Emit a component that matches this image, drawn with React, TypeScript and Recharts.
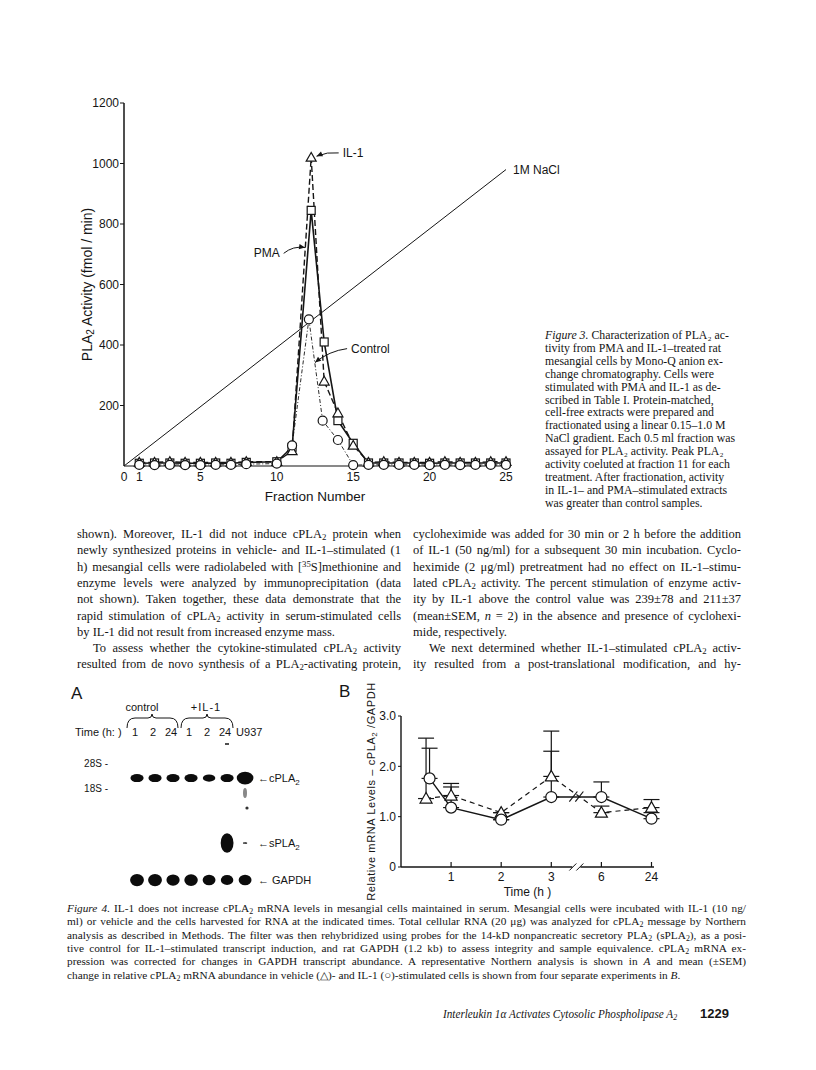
import React from "react";
import {
  LineChart,
  Line,
  XAxis,
  YAxis,
  ReferenceLine,
  ReferenceDot,
  Label,
  ScatterChart,
  Scatter,
  ErrorBar,
} from "recharts";

// ---- Figure 3: PLA2 activity of Mono-Q fractions
const fractionX = [1, 2, 3, 4, 5, 6, 7, 8, 10, 11, 12.25, 13.1, 14, 15, 16, 17, 18, 19, 20, 21, 22, 23, 24, 25];
const il1Activity = [12, 12, 14, 12, 12, 12, 12, 14, 14, 50, 1020, 280, 175, 68, 12, 14, 12, 12, 12, 14, 12, 12, 14, 14];
const pmaActivity = [9, 10, 10, 9, 9, 10, 9, 12, 14, 62, 845, 410, 150, 75, 10, 10, 10, 10, 9, 10, 10, 10, 10, 10];
const controlX = [1, 2, 3, 4, 5, 6, 7, 8, 10, 11, 12.1, 13, 14, 15, 16, 17, 18, 19, 20, 21, 22, 23, 24, 25];
const controlActivity = [4, 3, 4, 3, 3, 4, 4, 6, 8, 68, 485, 150, 86, 3, 4, 4, 4, 4, 3, 4, 3, 4, 4, 4];
const naclX = [0, 25];
const naclActivity = [0, 980];
const fractionTicks = [0, 1, 5, 10, 15, 20, 25];
const activityTicks = [200, 400, 600, 800, 1000, 1200];

// ---- Figure 4A: Northern blot
const laneX = [1, 2, 3, 4, 5, 6, 7];
const laneLabels = ["1", "2", "24", "1", "2", "24", "U937"];
const cpla2Signal = [1.0, 1.0, 1.0, 1.0, 0.9, 1.0, 1.6];
const spla2Signal = [0, 0, 0, 0, 0, 1.4, 0.12];
const gapdhSignal = [1.1, 1.1, 1.0, 1.05, 0.95, 0.9, 0.95];
const rowNames = ["cPLA2", "sPLA2", "GAPDH"];
const rowRf = [0.187, 0.62, 0.867];
const markerNames = ["28S", "18S"];
const markerRf = [0.087, 0.253];

// ---- Figure 4B: relative cPLA2 / GAPDH mRNA
const timeTicks = [1, 2, 3, 4, 5];
const timeLabels = ["1", "2", "3", "6", "24"];
const vehicleX = [0.5, 1, 2, 3, 4, 5];
const vehicleMean = [1.36, 1.42, 1.08, 1.8, 1.08, 1.18];
const vehicleSem = [1.2, 0.17, 0, 0.5, 0.13, 0.16];
const il1TimeX = [0.57, 1, 2, 3, 4, 5];
const il1Mean = [1.76, 1.18, 0.94, 1.39, 1.39, 0.96];
const il1Sem = [0.6, 0.48, 0, 1.31, 0.3, 0.12];
const ratioTicks = [0, 1, 2, 3];

// ---- text
const fig3Caption = [
  "*Figure 3.* Characterization of PLA_{2} ac-",
  "tivity from PMA and IL-1–treated rat",
  "mesangial cells by Mono-Q anion ex-",
  "change chromatography. Cells were",
  "stimulated with PMA and IL-1 as de-",
  "scribed in Table I. Protein-matched,",
  "cell-free extracts were prepared and",
  "fractionated using a linear 0.15–1.0 M",
  "NaCl gradient. Each 0.5 ml fraction was",
  "assayed for PLA_{2} activity. Peak PLA_{2}",
  "activity coeluted at fraction 11 for each",
  "treatment. After fractionation, activity",
  "in IL-1– and PMA–stimulated extracts",
  "was greater than control samples.",
];
const leftColumn = [
  "shown). Moreover, IL-1 did not induce cPLA_{2} protein when",
  "newly synthesized proteins in vehicle- and IL-1–stimulated (1",
  "h) mesangial cells were radiolabeled with [^{35}S]methionine and",
  "enzyme levels were analyzed by immunoprecipitation (data",
  "not shown). Taken together, these data demonstrate that the",
  "rapid stimulation of cPLA_{2} activity in serum-stimulated cells",
  "by IL-1 did not result from increased enzyme mass.",
  "To assess whether the cytokine-stimulated cPLA_{2} activity",
  "resulted from de novo synthesis of a PLA_{2}-activating protein,",
];
const rightColumn = [
  "cycloheximide was added for 30 min or 2 h before the addition",
  "of IL-1 (50 ng/ml) for a subsequent 30 min incubation. Cyclo-",
  "heximide (2 μg/ml) pretreatment had no effect on IL-1–stimu-",
  "lated cPLA_{2} activity. The percent stimulation of enzyme activ-",
  "ity by IL-1 above the control value was 239±78 and 211±37",
  "(mean±SEM, *n* = 2) in the absence and presence of cyclohexi-",
  "mide, respectively.",
  "We next determined whether IL-1–stimulated cPLA_{2} activ-",
  "ity resulted from a post-translational modification, and hy-",
];
const fig4Caption = [
  "*Figure 4.* IL-1 does not increase cPLA_{2} mRNA levels in mesangial cells maintained in serum. Mesangial cells were incubated with IL-1 (10 ng/",
  "ml) or vehicle and the cells harvested for RNA at the indicated times. Total cellular RNA (20 μg) was analyzed for cPLA_{2} message by Northern",
  "analysis as described in Methods. The filter was then rehybridized using probes for the 14-kD nonpancreatic secretory PLA_{2} (sPLA_{2}), as a posi-",
  "tive control for IL-1–stimulated transcript induction, and rat GAPDH (1.2 kb) to assess integrity and sample equivalence. cPLA_{2} mRNA ex-",
  "pression was corrected for changes in GAPDH transcript abundance. A representative Northern analysis is shown in *A* and mean (±SEM)",
  "change in relative cPLA_{2} mRNA abundance in vehicle (△)- and IL-1 (○)-stimulated cells is shown from four separate experiments in *B*.",
];

const ink = "#151515";
const sans = "'Liberation Sans', Arial, sans-serif";
const serif = "'Liberation Serif', 'Times New Roman', serif";

function rich(s: string, uniSub = false) {
  return s.split(/(_\{[^}]*\}|\^\{[^}]*\}|\*[^*]+\*)/).map((p, i) => {
    if (p.startsWith("_{")) {
      if (uniSub) return p.slice(2, -1).replace(/2/g, "₂");
      return (
        <span key={i} style={{ fontSize: "0.7em", verticalAlign: "-0.25em", lineHeight: 0 }}>
          {p.slice(2, -1)}
        </span>
      );
    }
    if (p.startsWith("^{"))
      return (
        <span key={i} style={{ fontSize: "0.7em", verticalAlign: "0.45em", lineHeight: 0 }}>
          {p.slice(2, -1)}
        </span>
      );
    if (p.length > 2 && p.startsWith("*")) return <i key={i}>{p.slice(1, -1)}</i>;
    return p;
  });
}

function TextBlock(props: {
  lines: string[];
  left: number;
  top: number;
  width: number;
  lh: number;
  size: number;
  ragged?: number[];
  indent?: number[];
  allRagged?: boolean;
  uniSub?: boolean;
}) {
  const { lines, left, top, width, lh, size, ragged = [], indent = [], allRagged = false, uniSub = false } = props;
  return (
    <>
      {lines.map((l, i) => (
        <div
          key={i}
          style={{
            position: "absolute",
            left,
            top: top + i * lh,
            width,
            height: lh,
            lineHeight: `${lh}px`,
            fontSize: size,
            fontFamily: serif,
            color: ink,
            whiteSpace: "nowrap",
            textAlign: allRagged ? "left" : "justify",
            textAlignLast: allRagged || ragged.includes(i) ? "left" : "justify",
            paddingLeft: indent.includes(i) ? 16 : 0,
            boxSizing: "border-box",
          }}
        >
          {rich(l, uniSub)}
        </div>
      ))}
    </>
  );
}

// open markers
const triangle = (size: number) => (p: any) => {
  const { cx, cy } = p;
  if (cx == null || cy == null) return <g />;
  const s = size;
  return (
    <polygon
      points={`${cx},${cy - s} ${cx - s},${cy + s * 0.75} ${cx + s},${cy + s * 0.75}`}
      fill="#fff"
      stroke={ink}
      strokeWidth={1.2}
    />
  );
};
const square = (p: any) => {
  const { cx, cy } = p;
  if (cx == null || cy == null) return <g />;
  return <rect x={cx - 4} y={cy - 4} width={8} height={8} fill="#fff" stroke={ink} strokeWidth={1.2} />;
};
const circle = (r: number) => (p: any) => {
  const { cx, cy } = p;
  if (cx == null || cy == null) return <g />;
  return <circle cx={cx} cy={cy} r={r} fill="#fff" stroke={ink} strokeWidth={1.2} />;
};

function arrowShape(text: string, side: "start" | "end", bend: number) {
  return (p: any) => {
    const { x1, y1, x2, y2 } = p;
    const dx = x2 - x1;
    const dy = y2 - y1;
    const len = Math.hypot(dx, dy) || 1;
    const qx = (x1 + x2) / 2 - (dy / len) * bend;
    const qy = (y1 + y2) / 2 + (dx / len) * bend;
    const hl = Math.hypot(x2 - qx, y2 - qy) || 1;
    const ux = (x2 - qx) / hl;
    const uy = (y2 - qy) / hl;
    const h = 6;
    const w = 2.6;
    const head = `${x2},${y2} ${x2 - ux * h - uy * w},${y2 - uy * h + ux * w} ${x2 - ux * h + uy * w},${y2 - uy * h - ux * w}`;
    return (
      <g>
        <path d={`M${x1},${y1} Q${qx},${qy} ${x2},${y2}`} fill="none" stroke={ink} strokeWidth={1} />
        <polygon points={head} fill={ink} />
        <text
          x={side === "start" ? x1 + 4 : x1 - 4}
          y={y1}
          dy={4}
          textAnchor={side}
          fontSize={12}
          fontFamily={sans}
          fill={ink}
        >
          {text}
        </text>
      </g>
    );
  };
}

function Fig3() {
  const il1 = fractionX.map((x, i) => ({ x, y: il1Activity[i] }));
  const pma = fractionX.map((x, i) => ({ x, y: pmaActivity[i] }));
  const ctl = controlX.map((x, i) => ({ x, y: controlActivity[i] }));
  const nacl = naclX.map((x, i) => ({ x, y: naclActivity[i] }));
  const tick = { fill: ink, fontSize: 12, fontFamily: sans };
  return (
    <LineChart width={600} height={520} margin={{ top: 103, right: 94, bottom: 14, left: 74 }}>
      <XAxis
        type="number"
        dataKey="x"
        domain={[0, 25]}
        ticks={fractionTicks}
        interval={0}
        tickLine={false}
        tickSize={0}
        tickMargin={6}
        height={40}
        axisLine={{ stroke: ink, strokeWidth: 1.2 }}
        tick={tick}
      >
        <Label
          content={(p: any) => (
            <text
              x={p.viewBox.x + p.viewBox.width / 2}
              y={p.viewBox.y + 35}
              textAnchor="middle"
              fontSize={13.5}
              fontFamily={sans}
              fill={ink}
            >
              Fraction Number
            </text>
          )}
        />
      </XAxis>
      <YAxis
        type="number"
        domain={[0, 1200]}
        ticks={activityTicks}
        interval={0}
        width={50}
        tickSize={4}
        tickMargin={1}
        axisLine={{ stroke: ink, strokeWidth: 1.5 }}
        tickLine={{ stroke: ink }}
        tick={tick}
      >
        <Label
          content={(p: any) => {
            const x = p.viewBox.x + 13;
            const y = p.viewBox.y + p.viewBox.height / 2;
            return (
              <text
                x={x}
                y={y}
                transform={`rotate(-90 ${x} ${y})`}
                textAnchor="middle"
                dominantBaseline="central"
                fontSize={14}
                fontFamily={sans}
                fill={ink}
              >
                PLA
                <tspan dy={3} fontSize={10}>
                  2
                </tspan>
                <tspan dy={-3}> Activity  (fmol / min)</tspan>
              </text>
            );
          }}
        />
      </YAxis>
      <Line data={nacl} dataKey="y" stroke={ink} strokeWidth={1} dot={false} isAnimationActive={false} />
      <Line
        data={pma}
        dataKey="y"
        stroke={ink}
        strokeWidth={1.6}
        dot={square}
        isAnimationActive={false}
      />
      <Line
        data={il1}
        dataKey="y"
        stroke={ink}
        strokeWidth={1.4}
        strokeDasharray="6 3"
        dot={triangle(5)}
        isAnimationActive={false}
      />
      <Line
        data={ctl}
        dataKey="y"
        stroke={ink}
        strokeWidth={0.9}
        strokeDasharray="4 2 1 2"
        dot={circle(4.5)}
        isAnimationActive={false}
      />
      <ReferenceLine
        segment={[{ x: 14.05, y: 1035 }, { x: 12.6, y: 1024 }]}
        ifOverflow="visible"
        shape={arrowShape("IL-1", "start", 3)}
      />
      <ReferenceLine
        segment={[{ x: 10.45, y: 703 }, { x: 11.85, y: 722 }]}
        ifOverflow="visible"
        shape={arrowShape("PMA", "end", -5)}
      />
      <ReferenceLine
        segment={[{ x: 14.6, y: 388 }, { x: 12.5, y: 342 }]}
        ifOverflow="visible"
        shape={arrowShape("Control", "start", 5)}
      />
      <ReferenceDot
        x={25}
        y={980}
        r={0}
        ifOverflow="visible"
        label={(p: any) => (
          <text x={p.viewBox.x + 7} y={p.viewBox.y} dy={4} fontSize={12} fontFamily={sans} fill={ink}>
            1M NaCl
          </text>
        )}
      />
    </LineChart>
  );
}

function GelRowTick(p: any) {
  const i = rowRf.indexOf(p.payload.value);
  const name = rowNames[i] || "";
  const base = name.replace(/2$/, "");
  return (
    <text x={p.x} y={p.y} dy={4} fontSize={11} fontFamily={sans} fill={ink}>
      {i === 2 ? "←  " : "←"}
      {base}
      {name.endsWith("2") ? (
        <tspan dy={3} fontSize={8}>
          2
        </tspan>
      ) : null}
    </text>
  );
}

function LaneTick(p: any) {
  const i = laneX.indexOf(p.payload.value);
  const last = i === laneX.length - 1;
  return (
    <text
      x={last ? p.x - 9 : p.x - 2}
      y={p.y}
      textAnchor={last ? "start" : "middle"}
      fontSize={11}
      fontFamily={sans}
      fill={ink}
    >
      {laneLabels[i]}
    </text>
  );
}

const bandShape = (kind: number) => (p: any) => {
  const { cx, cy, payload } = p;
  if (cx == null || cy == null) return <g />;
  const s = payload.s;
  const rx = kind === 1 ? 5 * Math.sqrt(s) + 0.5 : 6.6 * Math.sqrt(s);
  const ry = kind === 0 ? 4 * s : kind === 1 ? 7 * s : 5.6 * s;
  return <ellipse cx={cx} cy={cy} rx={rx} ry={ry} fill="#0c0c0c" />;
};

function Fig4A() {
  const cpla2 = laneX.map((lane, i) => ({ lane, rf: rowRf[0], s: cpla2Signal[i] }));
  const spla2 = laneX
    .map((lane, i) => ({ lane, rf: rowRf[1], s: spla2Signal[i] }))
    .filter((d) => d.s > 0);
  const gapdh = laneX.map((lane, i) => ({ lane, rf: rowRf[2], s: gapdhSignal[i] }));
  return (
    <ScatterChart width={290} height={220} margin={{ top: 50, right: 35, bottom: 0, left: 9 }}>
      <XAxis
        type="number"
        dataKey="lane"
        orientation="top"
        domain={[0, 7.55]}
        ticks={laneX}
        interval={0}
        height={20}
        axisLine={false}
        tickLine={false}
        tickSize={0}
        tickMargin={14}
        tick={<LaneTick />}
      />
      <YAxis
        yAxisId="left"
        type="number"
        dataKey="rf"
        domain={[0, 1]}
        reversed
        ticks={markerRf}
        interval={0}
        width={50}
        axisLine={false}
        tickLine={false}
        tickSize={0}
        tickMargin={11}
        tickFormatter={(v: number) => `${markerNames[markerRf.indexOf(v)]} -`}
        tick={{ fill: ink, fontSize: 10, fontFamily: sans }}
      />
      <YAxis
        yAxisId="right"
        orientation="right"
        type="number"
        dataKey="rf"
        domain={[0, 1]}
        reversed
        ticks={rowRf}
        interval={0}
        width={60}
        axisLine={false}
        tickLine={false}
        tickSize={0}
        tickMargin={3}
        tick={<GelRowTick />}
      />
      <Scatter yAxisId="left" data={cpla2} shape={bandShape(0)} isAnimationActive={false} />
      <Scatter yAxisId="right" data={spla2} shape={bandShape(1)} isAnimationActive={false} />
      <Scatter yAxisId="left" data={gapdh} shape={bandShape(2)} isAnimationActive={false} />
    </ScatterChart>
  );
}

function TimeTick(p: any) {
  const i = timeTicks.indexOf(p.payload.value);
  return (
    <g>
      <line x1={p.x} x2={p.x} y1={p.y} y2={p.y - 5} stroke={ink} strokeWidth={1.2} />
      <text x={p.x} y={p.y + 14} textAnchor="middle" fontSize={12} fontFamily={sans} fill={ink}>
        {timeLabels[i]}
      </text>
    </g>
  );
}

function Fig4B() {
  const vehicle = vehicleX.map((x, i) => ({ x, y: vehicleMean[i], err: [0, vehicleSem[i]] }));
  const il1 = il1TimeX.map((x, i) => ({ x, y: il1Mean[i], err: [0, il1Sem[i]] }));
  return (
    <LineChart width={360} height={230} margin={{ top: 36, right: 36, bottom: 18, left: 31 }}>
      <XAxis
        type="number"
        dataKey="x"
        domain={[0, 5.05]}
        ticks={timeTicks}
        interval={0}
        height={25}
        axisLine={false}
        tickLine={false}
        tickSize={0}
        tickMargin={0}
        tick={<TimeTick />}
      >
        <Label
          content={(p: any) => (
            <text
              x={p.viewBox.x + p.viewBox.width / 2}
              y={p.viewBox.y + 29}
              textAnchor="middle"
              fontSize={12}
              fontFamily={sans}
              fill={ink}
            >
              Time (h  )
            </text>
          )}
        />
      </XAxis>
      <YAxis
        type="number"
        domain={[0, 3]}
        ticks={ratioTicks}
        interval={0}
        width={40}
        tickSize={3}
        tickMargin={2}
        axisLine={{ stroke: ink, strokeWidth: 1.4 }}
        tickLine={{ stroke: ink }}
        tickFormatter={(v: number) => (v === 0 ? "0" : v.toFixed(1))}
        tick={{ fill: ink, fontSize: 12, fontFamily: sans }}
      >
        <Label
          content={(p: any) => {
            const x = p.viewBox.x + 10;
            const y = p.viewBox.y + p.viewBox.height / 2;
            return (
              <text
                x={x}
                y={y}
                transform={`rotate(-90 ${x} ${y})`}
                textAnchor="middle"
                dominantBaseline="central"
                fontSize={11}
                letterSpacing={0.6}
                fontFamily={sans}
                fill={ink}
              >
                Relative mRNA Levels – cPLA
                <tspan dy={3} fontSize={8}>
                  2
                </tspan>
                <tspan dy={-3}> /GAPDH</tspan>
              </text>
            );
          }}
        />
      </YAxis>
      <ReferenceLine segment={[{ x: 0, y: 0 }, { x: 3.42, y: 0 }]} stroke={ink} strokeWidth={1.4} ifOverflow="visible" />
      <ReferenceLine segment={[{ x: 3.58, y: 0 }, { x: 5.05, y: 0 }]} stroke={ink} strokeWidth={1.4} ifOverflow="visible" />
      <ReferenceLine segment={[{ x: 3.36, y: -0.07 }, { x: 3.5, y: 0.07 }]} stroke={ink} ifOverflow="visible" />
      <ReferenceLine segment={[{ x: 3.5, y: -0.07 }, { x: 3.64, y: 0.07 }]} stroke={ink} ifOverflow="visible" />
      <Line
        data={vehicle}
        dataKey="y"
        stroke={ink}
        strokeWidth={1.2}
        strokeDasharray="5 4"
        dot={triangle(6)}
        isAnimationActive={false}
      >
        <ErrorBar dataKey="err" direction="y" width={8} stroke={ink} strokeWidth={1.2} />
      </Line>
      <Line data={il1} dataKey="y" stroke={ink} strokeWidth={1.4} dot={circle(5.5)} isAnimationActive={false}>
        <ErrorBar dataKey="err" direction="y" width={8} stroke={ink} strokeWidth={1.2} />
      </Line>
      <ReferenceLine segment={[{ x: 3.36, y: 1.3 }, { x: 3.52, y: 1.5 }]} stroke={ink} strokeWidth={1.2} ifOverflow="visible" />
      <ReferenceLine segment={[{ x: 3.48, y: 1.3 }, { x: 3.64, y: 1.5 }]} stroke={ink} strokeWidth={1.2} ifOverflow="visible" />
    </LineChart>
  );
}

const abs = (left: number, top: number): React.CSSProperties => ({ position: "absolute", left, top });

export default function App() {
  return (
    <div
      style={{
        position: "absolute",
        left: 0,
        top: 0,
        width: 816,
        height: 1070,
        background: "#fff",
        overflow: "hidden",
        color: ink,
      }}
    >
      <div style={abs(0, 0)}>
        <Fig3 />
      </div>
      <TextBlock lines={fig3Caption} left={545} top={329} width={222} lh={12.9} size={11.8} allRagged uniSub />
      <TextBlock lines={leftColumn} left={77} top={526} width={324} lh={16.3} size={12.5} ragged={[6]} indent={[7]} />
      <TextBlock lines={rightColumn} left={413} top={526} width={328} lh={16.3} size={12.5} ragged={[6]} indent={[7]} />

      <div style={{ ...abs(71, 684), fontSize: 17, fontFamily: sans }}>A</div>
      <div style={{ ...abs(339, 682), fontSize: 17, fontFamily: sans }}>B</div>

      <div style={abs(60, 680)}>
        <Fig4A />
      </div>
      <svg width={816} height={300} style={abs(0, 680)}>
        <text x={142} y={31} textAnchor="middle" fontSize={11} fontFamily={sans} fill={ink}>
          control
        </text>
        <text x={206} y={31} textAnchor="middle" fontSize={11} fontFamily={sans} fill={ink} letterSpacing={1}>
          +IL-1
        </text>
        <path d="M127,48 Q127,38 135,38 L148,38 Q152,38 152,34 Q152,38 156,38 L170,38 Q178,38 178,48" fill="none" stroke={ink} strokeWidth={1} />
        <path d="M181,48 Q181,38 189,38 L203,38 Q207,38 207,34 Q207,38 211,38 L225,38 Q233,38 233,48" fill="none" stroke={ink} strokeWidth={1} />
        <text x={75} y={56} fontSize={11} fontFamily={sans} fill={ink}>
          Time (h: )
        </text>
        <line x1={225} x2={229} y1={64} y2={64} stroke={ink} strokeWidth={1.5} />
        <ellipse cx={245} cy={113} rx={2} ry={5} fill="#888" />
        <circle cx={247} cy={128} r={1.6} fill="#333" />
        <circle cx={244} cy={163} r={0.8} fill="#777" />
      </svg>

      <div style={abs(330, 680)}>
        <Fig4B />
      </div>

      <TextBlock lines={fig4Caption} left={67} top={902} width={679} lh={13.3} size={11.3} ragged={[5]} />

      <div
        style={{
          ...abs(443, 1006),
          fontSize: 13,
          fontFamily: serif,
          fontStyle: "italic",
          whiteSpace: "nowrap",
          transform: "scaleX(0.86)",
          transformOrigin: "left top",
        }}
      >
        Interleukin 1α Activates Cytosolic Phospholipase A
        <span style={{ fontSize: "0.7em", verticalAlign: "-0.25em" }}>2</span>
      </div>
      <div style={{ ...abs(700, 1006), fontSize: 13, fontFamily: sans, fontWeight: "bold" }}>1229</div>
    </div>
  );
}
